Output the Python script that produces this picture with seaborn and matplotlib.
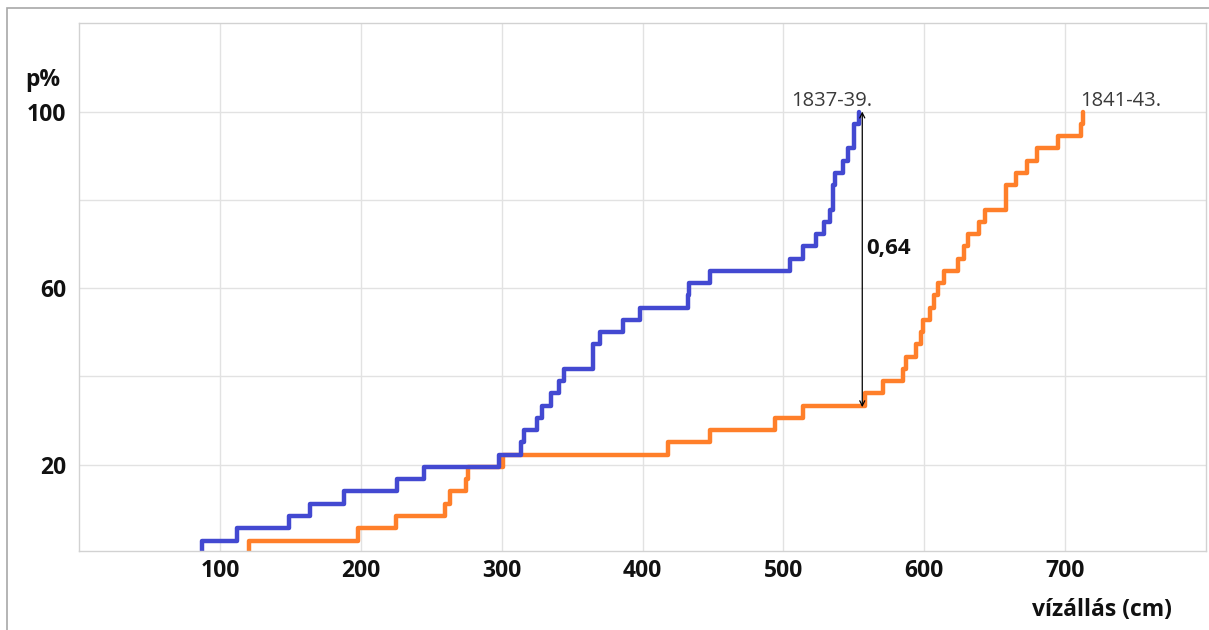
import numpy as np
import pandas as pd
import seaborn as sns
import matplotlib.pyplot as plt
from matplotlib.patches import Rectangle

# water levels (cm)
vals_1837 = [87, 112, 149, 164, 188, 226, 245, 298, 314, 316, 325, 329,
             335, 341, 344, 365, 365, 370, 386, 398, 432, 433, 448, 505,
             514, 523, 529, 533, 535, 535, 537, 542, 546, 550, 550, 554]
vals_1841 = [121, 198, 225, 260, 263, 275, 276, 301, 418, 448, 494, 514,
             558, 571, 585, 587, 594, 598, 599, 604, 607, 610, 614, 624,
             628, 631, 639, 643, 658, 658, 665, 673, 680, 695, 711, 713]
periods = ['1837-39.', '1841-43.']
colors = ['#4349D1', '#FF7F2A']

x_ticks = [100, 200, 300, 400, 500, 600, 700]
y_ticks = [20, 60, 100]
y_grid_extra = [40, 80]

# distance marker between the two curves
ks_x = 556
ks_low = 33
ks_high = 100
ks_label = '0,64'

sns.set_style('white')
plt.rcParams['font.family'] = ['Open Sans', 'DejaVu Sans']

fig = plt.figure(figsize=(12.09, 6.3), dpi=100)
W, H = 1209, 630
ax = fig.add_axes([79 / W, 1 - 551 / H, (1206 - 79) / W, (551 - 23.3) / H])

df = pd.DataFrame({
    'vizallas': vals_1837 + vals_1841,
    'idoszak': [periods[0]] * len(vals_1837) + [periods[1]] * len(vals_1841),
})

# orange first so the blue steps sit on top
for period, color in reversed(list(zip(periods, colors))):
    sns.ecdfplot(data=df[df.idoszak == period], x='vizallas', stat='percent',
                 color=color, linewidth=3.2, ax=ax)

ax.set_xlim(0, 800)
ax.set_ylim(0.4, 120)
ax.set_xticks(x_ticks)
ax.set_yticks(y_ticks)
ax.set_yticks(y_grid_extra, minor=True)
ax.grid(which='both', color='#e2e2e2', linewidth=1)
ax.set_axisbelow(True)
ax.tick_params(which='both', length=0)
ax.tick_params(axis='x', pad=6)
ax.tick_params(axis='y', pad=9)
for lab in ax.get_xticklabels() + ax.get_yticklabels():
    lab.set_fontsize(16.5)
    lab.set_fontweight('bold')
    lab.set_color('#111111')
ax.set_xlabel('')
ax.set_ylabel('')
for sp in ax.spines.values():
    sp.set_color('#d2d2d2')
    sp.set_linewidth(1)

# end-of-line labels
ax.annotate(periods[0], xy=(max(vals_1837), 100), xytext=(9, 4),
            textcoords='offset points', ha='right', va='baseline',
            fontsize=14.5, color='#3a3a3a')
ax.annotate(periods[1], xy=(max(vals_1841), 100), xytext=(-2.5, 4),
            textcoords='offset points', ha='left', va='baseline',
            fontsize=14.5, color='#3a3a3a')

# double arrow with the distance value
ax.annotate('', xy=(ks_x, ks_high), xytext=(ks_x, ks_low),
            arrowprops=dict(arrowstyle='<->', color='black', lw=0.9,
                            mutation_scale=9, shrinkA=0, shrinkB=0))
ax.text(ks_x + 3, 69, ks_label, ha='left', va='center', fontsize=16,
        fontweight='bold', color='#111111')

fig.text(25 / W, 1 - 80 / H, 'p%', ha='left', va='center', fontsize=16.5,
         fontweight='bold', color='#111111')
fig.text(1102 / W, 1 - 610 / H, 'vízállás (cm)', ha='center', va='center',
         fontsize=16.5, fontweight='bold', color='#111111')

# outer frame of the exported picture
fig.add_artist(Rectangle((7 / W, -0.1), 1.2, 1.1 - 8 / H,
                         transform=fig.transFigure, fill=False,
                         edgecolor='#a8a8a8', linewidth=1.2))

fig.savefig('out.png', dpi=100)
